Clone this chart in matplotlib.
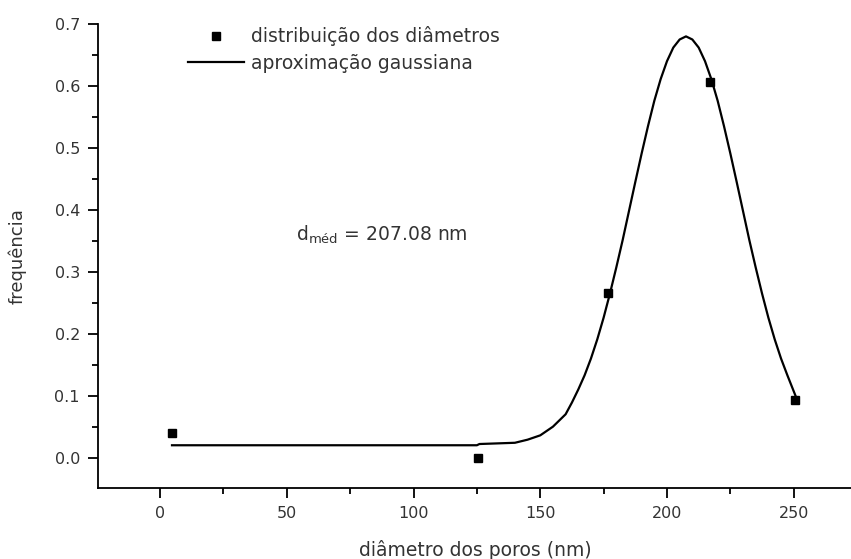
import matplotlib
matplotlib.use("Agg")
import matplotlib.pyplot as plt
from matplotlib.ticker import MultipleLocator

# measured points (distribution of diameters)
diam_x = [4.7, 125.4, 176.9, 217.1, 250.7]
freq_y = [0.040, 0.000, 0.266, 0.607, 0.093]

# gaussian approximation curve
curve_x = [4.7, 125.0, 126.0, 140, 145, 150, 155, 160, 162.5, 165, 167.5, 170, 172.5,
           175, 177.5, 180, 182.5, 185, 187.5, 190, 192.5, 195, 197.5, 200, 202.5,
           205, 207.5, 210, 212.5, 215, 217.5, 220, 222.5, 225, 227.5, 230, 232.5,
           235, 237.5, 240, 242.5, 245, 247.5, 250.7]
curve_y = [0.020, 0.020, 0.022, 0.024, 0.029, 0.036, 0.050, 0.070, 0.089, 0.110,
           0.133, 0.160, 0.191, 0.226, 0.265, 0.307, 0.351, 0.398, 0.445, 0.491,
           0.535, 0.576, 0.611, 0.640, 0.662, 0.675, 0.680, 0.675, 0.662, 0.640,
           0.611, 0.576, 0.535, 0.491, 0.445, 0.398, 0.351, 0.307, 0.265, 0.226,
           0.191, 0.160, 0.133, 0.100]

x_ticks = [0, 50, 100, 150, 200, 250]
y_ticks = [0.0, 0.1, 0.2, 0.3, 0.4, 0.5, 0.6, 0.7]

plt.rcParams['font.family'] = ['DejaVu Sans']
fig = plt.figure(figsize=(8.51, 5.59), dpi=100)
ax = fig.add_axes([98/851, 71/559, 754/851, 464/559])

ax.plot(curve_x, curve_y, color='black', lw=1.6, label='aproximação gaussiana',
        zorder=2, solid_joinstyle='round')
ax.plot(diam_x, freq_y, 's', color='black', ms=5.5, ls='none',
        label='distribuição dos diâmetros', zorder=3)

ax.set_xlim(-24.5, 273)
ax.set_ylim(-0.049, 0.7)
ax.set_xticks(x_ticks)
ax.set_yticks(y_ticks)
ax.set_xticklabels([str(v) for v in x_ticks])
ax.set_yticklabels([f"{v:.1f}" for v in y_ticks])
ax.xaxis.set_minor_locator(MultipleLocator(25))
ax.yaxis.set_minor_locator(MultipleLocator(0.05))

for s in ['top', 'right']:
    ax.spines[s].set_visible(False)
for s in ['left', 'bottom']:
    ax.spines[s].set_linewidth(1.3)
ax.tick_params(which='major', direction='out', length=7, width=1.3,
               labelsize=11.5, labelcolor='#333333', pad=6)
ax.tick_params(which='minor', direction='out', length=4, width=1.3)

ax.set_xlabel('diâmetro dos poros (nm)', fontsize=13.5, color='#333333', labelpad=14)
ax.set_ylabel('frequência', fontsize=13, color='#333333', labelpad=20)

ax.text(53.5, 0.36, r'd$_{\mathregular{méd}}$ = 207.08 nm', fontsize=13.5, color='#333333',
        va='center', ha='left')

handles, labels = ax.get_legend_handles_labels()
leg = ax.legend(handles[::-1], labels[::-1], loc='upper left',
                bbox_to_anchor=(0.119, 0.995), frameon=False, fontsize=13.5,
                handlelength=3.0, handletextpad=0.35, labelspacing=0.4,
                borderpad=0, borderaxespad=0, labelcolor='#333333')

fig.savefig('out.png', dpi=100)
